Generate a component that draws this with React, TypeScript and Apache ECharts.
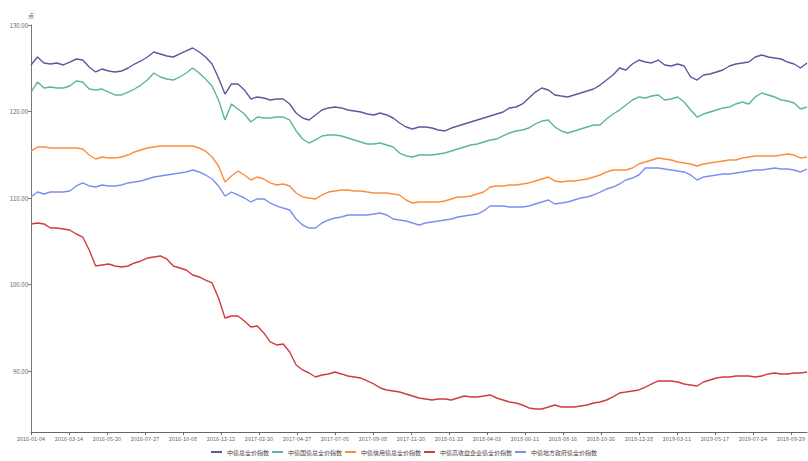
import React, { useEffect, useRef } from "react";
import * as echarts from "echarts";

// x-axis tick labels (every 47th trading day)
const tickLabels = [
  "2016-01-04", "2016-03-14", "2016-05-20", "2016-07-27", "2016-10-08",
  "2016-12-12", "2017-02-20", "2017-04-27", "2017-07-05", "2017-09-08",
  "2017-11-20", "2018-01-23", "2018-04-03", "2018-06-11", "2018-08-16",
  "2018-10-26", "2018-12-28", "2019-03-11", "2019-05-17", "2019-07-24",
  "2019-09-29",
];
const LABEL_EVERY = 47;
const TOTAL_DAYS = 961;
// readings are taken every SAMPLE_STEP trading days
const SAMPLE_STEP = 8;

const seriesNames = [
  "中债总全价指数",
  "中债国债总全价指数",
  "中债信用债总全价指数",
  "中债高收益企业债全价指数",
  "中债地方政府债全价指数",
];

const totalIdx = [
  125.38, 126.30, 125.61, 125.49, 125.61, 125.38, 125.72, 126.07, 125.95, 125.14,
  124.57, 124.91, 124.68, 124.57, 124.68, 125.03, 125.49, 125.84, 126.30, 126.88,
  126.65, 126.42, 126.30, 126.65, 127.00, 127.34, 126.88, 126.30, 125.49, 123.87,
  122.02, 123.18, 123.18, 122.49, 121.45, 121.68, 121.56, 121.33, 121.45, 121.45,
  120.87, 119.83, 119.25, 119.02, 119.60, 120.17, 120.41, 120.52, 120.41, 120.17,
  120.06, 119.94, 119.71, 119.60, 119.83, 119.60, 119.25, 118.67, 118.21, 117.98,
  118.21, 118.21, 118.09, 117.86, 117.75, 118.09, 118.32, 118.56, 118.79, 119.02,
  119.25, 119.48, 119.71, 119.94, 120.41, 120.52, 120.87, 121.56, 122.25, 122.72,
  122.49, 121.91, 121.79, 121.68, 121.91, 122.14, 122.37, 122.60, 123.06, 123.64,
  124.22, 125.03, 124.80, 125.49, 125.95, 125.72, 125.61, 125.95, 125.38, 125.26,
  125.49, 125.26, 123.99, 123.64, 124.22, 124.34, 124.57, 124.80, 125.26, 125.49,
  125.61, 125.72, 126.30, 126.53, 126.30, 126.19, 126.07, 125.72, 125.49, 125.03,
  125.61,
];

const treasuryIdx = [
  122.25, 123.41, 122.72, 122.83, 122.72, 122.72, 122.95, 123.53, 123.41, 122.60,
  122.49, 122.60, 122.25, 121.91, 121.91, 122.25, 122.60, 123.06, 123.64, 124.45,
  123.99, 123.76, 123.64, 123.99, 124.45, 125.03, 124.45, 123.76, 122.95, 121.33,
  119.02, 120.87, 120.29, 119.71, 118.79, 119.36, 119.25, 119.25, 119.36, 119.36,
  119.02, 117.75, 116.82, 116.36, 116.71, 117.17, 117.28, 117.28, 117.17, 116.94,
  116.71, 116.47, 116.24, 116.24, 116.36, 116.13, 115.90, 115.20, 114.86, 114.74,
  114.97, 114.97, 114.97, 115.09, 115.20, 115.43, 115.67, 115.90, 116.13, 116.24,
  116.47, 116.71, 116.82, 117.17, 117.52, 117.75, 117.86, 118.09, 118.56, 118.90,
  119.02, 118.21, 117.75, 117.52, 117.75, 117.98, 118.21, 118.44, 118.44, 119.13,
  119.71, 120.17, 120.75, 121.33, 121.68, 121.56, 121.79, 121.91, 121.33, 121.45,
  121.68, 121.10, 120.17, 119.36, 119.71, 119.94, 120.17, 120.41, 120.52, 120.87,
  121.10, 120.87, 121.68, 122.14, 121.91, 121.68, 121.33, 121.21, 120.98, 120.29,
  120.52,
];

const creditIdx = [
  115.43, 115.90, 115.90, 115.78, 115.78, 115.78, 115.78, 115.78, 115.67, 114.97,
  114.51, 114.74, 114.62, 114.62, 114.74, 114.97, 115.32, 115.55, 115.78, 115.90,
  116.01, 116.01, 116.01, 116.01, 116.01, 116.01, 115.78, 115.43, 114.74, 113.70,
  111.85, 112.54, 113.12, 112.66, 112.08, 112.43, 112.20, 111.74, 111.50, 111.62,
  111.39, 110.58, 110.12, 110.00, 109.89, 110.35, 110.69, 110.81, 110.93, 110.93,
  110.81, 110.81, 110.69, 110.58, 110.58, 110.58, 110.46, 110.35, 109.77, 109.42,
  109.54, 109.54, 109.54, 109.54, 109.65, 109.89, 110.12, 110.12, 110.23, 110.46,
  110.69, 111.27, 111.39, 111.39, 111.50, 111.50, 111.62, 111.74, 111.97, 112.20,
  112.43, 111.97, 111.85, 111.97, 111.97, 112.08, 112.20, 112.43, 112.66, 113.01,
  113.24, 113.24, 113.24, 113.47, 113.93, 114.16, 114.39, 114.62, 114.51, 114.39,
  114.16, 114.05, 113.93, 113.70, 113.93, 114.05, 114.16, 114.28, 114.39, 114.39,
  114.62, 114.74, 114.86, 114.86, 114.86, 114.86, 114.97, 115.09, 114.97, 114.62,
  114.74,
];

const highYieldIdx = [
  107.00, 107.11, 107.00, 106.53, 106.53, 106.42, 106.30, 105.84, 105.49, 103.99,
  102.14, 102.26, 102.37, 102.14, 102.02, 102.14, 102.49, 102.72, 103.06, 103.18,
  103.30, 102.95, 102.14, 101.91, 101.68, 101.10, 100.87, 100.52, 100.18, 98.44,
  96.13, 96.36, 96.36, 95.78, 95.09, 95.20, 94.40, 93.36, 93.01, 93.12,
  92.20, 90.70, 90.12, 89.77, 89.31, 89.54, 89.66, 89.89, 89.66, 89.42,
  89.31, 89.19, 88.85, 88.50, 88.04, 87.81, 87.69, 87.57, 87.34, 87.11,
  86.88, 86.77, 86.65, 86.77, 86.77, 86.65, 86.88, 87.11, 87.00, 87.00,
  87.11, 87.23, 86.88, 86.65, 86.42, 86.30, 86.07, 85.73, 85.61, 85.61,
  85.84, 86.07, 85.84, 85.84, 85.84, 85.96, 86.07, 86.30, 86.42, 86.65,
  87.00, 87.46, 87.57, 87.69, 87.81, 88.15, 88.50, 88.85, 88.85, 88.85,
  88.73, 88.50, 88.38, 88.27, 88.73, 88.96, 89.19, 89.31, 89.31, 89.42,
  89.42, 89.42, 89.31, 89.42, 89.66, 89.77, 89.66, 89.66, 89.77, 89.77,
  89.89,
];

const localGovIdx = [
  110.12, 110.69, 110.46, 110.69, 110.69, 110.69, 110.81, 111.39, 111.74, 111.39,
  111.27, 111.50, 111.39, 111.39, 111.50, 111.74, 111.85, 111.97, 112.20, 112.43,
  112.54, 112.66, 112.78, 112.89, 113.01, 113.24, 113.01, 112.66, 112.20, 111.39,
  110.23, 110.69, 110.35, 110.00, 109.54, 109.89, 109.89, 109.42, 109.08, 108.84,
  108.61, 107.57, 106.88, 106.53, 106.53, 107.11, 107.46, 107.69, 107.80, 108.04,
  108.04, 108.04, 108.04, 108.15, 108.27, 108.04, 107.57, 107.46, 107.34, 107.11,
  106.88, 107.11, 107.23, 107.34, 107.46, 107.57, 107.80, 107.92, 108.04, 108.15,
  108.50, 109.08, 109.08, 109.08, 108.96, 108.96, 108.96, 109.08, 109.31, 109.54,
  109.77, 109.31, 109.42, 109.54, 109.77, 110.00, 110.12, 110.35, 110.69, 111.04,
  111.27, 111.62, 112.08, 112.31, 112.66, 113.47, 113.47, 113.47, 113.35, 113.24,
  113.12, 113.01, 112.66, 112.08, 112.43, 112.54, 112.66, 112.78, 112.78, 112.89,
  113.01, 113.12, 113.24, 113.24, 113.35, 113.47, 113.35, 113.35, 113.24, 113.01,
  113.35,
];

const seriesValues = [totalIdx, treasuryIdx, creditIdx, highYieldIdx, localGovIdx];
const colors = ["#575b9d", "#5cb699", "#fb8d3d", "#d23b3b", "#7d8ef0"];

function addWeekdays(dateStr: string, n: number): string {
  const d = new Date(dateStr + "T00:00:00Z");
  let c = 0;
  while (c < n) {
    d.setUTCDate(d.getUTCDate() + 1);
    const wd = d.getUTCDay();
    if (wd !== 0 && wd !== 6) c++;
  }
  return d.toISOString().slice(0, 10);
}

function buildCategories(): string[] {
  const out: string[] = [];
  for (let i = 0; i < TOTAL_DAYS; i++) {
    const seg = Math.min(Math.floor(i / LABEL_EVERY), tickLabels.length - 1);
    const off = i - seg * LABEL_EVERY;
    out.push(off === 0 ? tickLabels[seg] : addWeekdays(tickLabels[seg], off));
  }
  return out;
}

export default function App() {
  const ref = useRef<HTMLDivElement>(null);
  useEffect(() => {
    if (!ref.current) return;
    const chart = echarts.init(ref.current, undefined, { renderer: "svg" });
    const categories = buildCategories();
    const font = "'Noto Sans CJK SC', 'Noto Sans', sans-serif";
    chart.setOption({
      animation: false,
      textStyle: { fontFamily: font },
      grid: { left: 31, right: 1, top: 25, bottom: 29, containLabel: false },
      legend: {
        bottom: 1,
        left: "center",
        icon: "rect",
        itemWidth: 11,
        itemHeight: 2,
        itemGap: 3,
        textStyle: { fontSize: 6, color: "#444", fontFamily: font },
        data: seriesNames,
      },
      xAxis: {
        type: "category",
        boundaryGap: false,
        data: categories,
        axisLine: { lineStyle: { color: "#666" } },
        axisTick: { interval: LABEL_EVERY - 1, length: 3, lineStyle: { color: "#666" } },
        axisLabel: {
          interval: LABEL_EVERY - 1,
          fontSize: 5.5,
          color: "#666",
          margin: 4,
          fontFamily: font,
        },
        splitLine: { show: false },
      },
      yAxis: {
        type: "value",
        name: "点",
        nameGap: 7,
        nameTextStyle: { fontSize: 6, color: "#666" },
        min: 82.95,
        max: 130,
        axisLine: { show: true, lineStyle: { color: "#777" } },
        axisTick: { show: true, length: 3, lineStyle: { color: "#777" } },
        axisLabel: {
          fontSize: 6,
          color: "#666",
          margin: 3,
          showMinLabel: false,
          formatter: (v: number) => v.toFixed(2),
          fontFamily: font,
        },
        splitLine: { show: false },
      },
      series: seriesNames.map((name, si) => ({
        name,
        type: "line",
        showSymbol: false,
        symbol: "none",
        color: colors[si],
        lineStyle: { width: 1.4, color: colors[si] },
        data: seriesValues[si].map((v, k) => [k * SAMPLE_STEP, v]),
      })),
    });
    return () => chart.dispose();
  }, []);
  return (
    <div
      ref={ref}
      style={{ position: "fixed", left: 0, top: 0, width: 808, height: 461, background: "#fff" }}
    />
  );
}
